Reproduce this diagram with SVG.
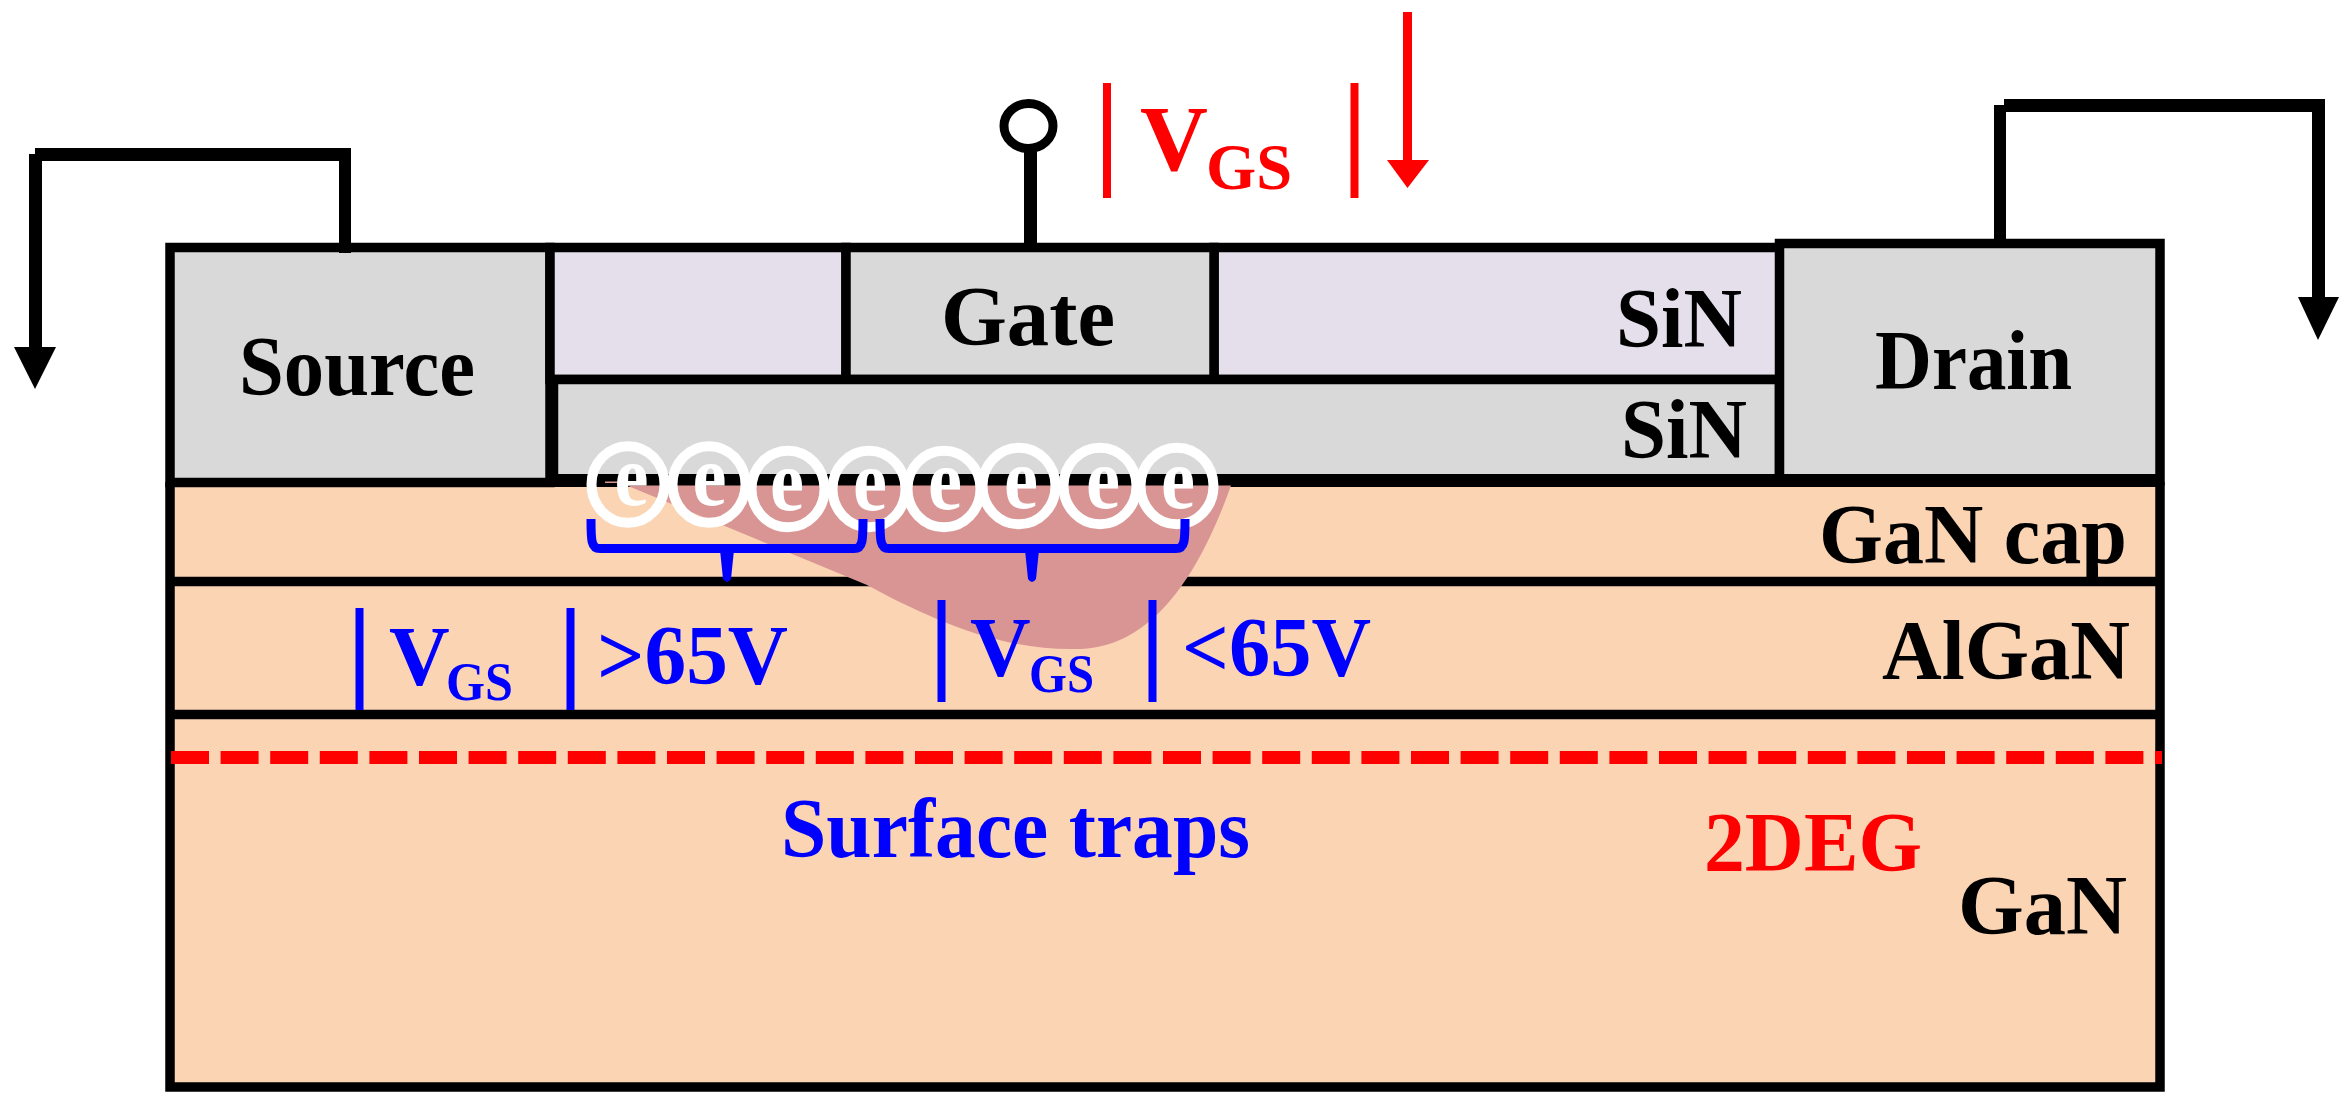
<svg xmlns="http://www.w3.org/2000/svg" width="2351" height="1104" viewBox="0 0 2351 1104">
<style>
text{font-family:"Liberation Serif","Times New Roman",serif;font-weight:bold}
.l{font-size:84px;fill:#000}
.b{fill:#00f}
.r{fill:#f00}
.e{font-size:86px;fill:#fff;text-anchor:middle}
.ln{stroke:#000;stroke-width:9.500;fill:none}
.bb{fill:none;stroke:#00f;stroke-width:8}
.rb{fill:none;stroke:#f00;stroke-width:8}
.br{fill:none;stroke:#00f;stroke-width:9}
</style>
<defs>
<ellipse id="ring" rx="36.500" ry="38.300" fill="none" stroke="#fff" stroke-width="10"/>
</defs>
<rect width="2351" height="1104" fill="#fff"/>
<g id="gan">
<rect x="170" y="482" width="1990" height="605" fill="#FBD4B4"/>
</g>
<g id="source"><rect x="170" y="247.500" width="380" height="235" class="ln" style="fill:#D9D9D9"/><text class="l" x="239" y="394.500" textLength="236" lengthAdjust="spacingAndGlyphs">Source</text></g>
<g id="sin-upper-left"><rect x="550" y="247.500" width="296" height="132" class="ln" style="fill:#E5DFEC"/></g>
<g id="sin-upper-right"><rect x="1214" y="247.500" width="566" height="132" class="ln" style="fill:#E5DFEC"/><text class="l" x="1616" y="347" textLength="126" lengthAdjust="spacingAndGlyphs">SiN</text></g>
<g id="gate"><rect x="846" y="247.500" width="368" height="132" class="ln" style="fill:#D9D9D9"/><text class="l" x="941" y="345" textLength="174" lengthAdjust="spacingAndGlyphs">Gate</text></g>
<g id="sin-lower"><rect x="553.500" y="379.500" width="1226" height="101" class="ln" style="fill:#D9D9D9"/><text class="l" x="1621" y="458" textLength="126" lengthAdjust="spacingAndGlyphs">SiN</text></g>
<g id="drain"><rect x="1779.500" y="243.500" width="380.500" height="237" class="ln" style="fill:#D9D9D9"/><text class="l" x="1875" y="389" textLength="197" lengthAdjust="spacingAndGlyphs">Drain</text></g>
<rect x="550" y="474" width="1614" height="13" fill="#000"/>
<rect x="166" y="478" width="390" height="9" fill="#000"/>
<g id="layer-lines">
<path class="ln" d="M170 581.500H2160M170 714.500H2160"/>
<path class="ln" d="M170 482V1087H2160V482"/>
</g>
<g id="depletion">
<path fill="#D99594" d="M605 481.500H627V485.500H1231C1192 595 1140 652 1071 649C1010 649 950 630 867 585L627 485.500V483H605Z"/>
</g>
<g id="electrons">
<use href="#ring" x="628" y="484.500"/><text class="e" x="631.500" y="505" textLength="34" lengthAdjust="spacingAndGlyphs">e</text>
<use href="#ring" x="709" y="484.500"/><text class="e" x="709.500" y="505" textLength="34" lengthAdjust="spacingAndGlyphs">e</text>
<use href="#ring" x="788" y="489"/><text class="e" x="787" y="510" textLength="34" lengthAdjust="spacingAndGlyphs">e</text>
<use href="#ring" x="869" y="489"/><text class="e" x="870" y="510" textLength="34" lengthAdjust="spacingAndGlyphs">e</text>
<use href="#ring" x="944" y="489"/><text class="e" x="945" y="509" textLength="34" lengthAdjust="spacingAndGlyphs">e</text>
<use href="#ring" x="1019" y="486"/><text class="e" x="1021" y="508" textLength="34" lengthAdjust="spacingAndGlyphs">e</text>
<use href="#ring" x="1100" y="486"/><text class="e" x="1103" y="508" textLength="34" lengthAdjust="spacingAndGlyphs">e</text>
<use href="#ring" x="1177" y="486"/><text class="e" x="1178" y="508" textLength="34" lengthAdjust="spacingAndGlyphs">e</text>
</g>
<g id="connectors">
<path class="br" d="M591 519C591 540 591 548.500 600 548.500H854C863 548.500 863 540 863 519M880 519C880 540 880 548.500 889 548.500H1176C1185 548.500 1185 540 1185 519"/>
<path fill="#00f" d="M720 550L723 579Q727 585 731 579L734 550L727 544ZM1025 550L1028 579Q1032 585 1036 579L1039 550L1032 544Z"/>
<path fill="#000" d="M339 148H351V253H339Z"/>
<path fill="#000" d="M35 148H348V161H42V347H29V154H35Z"/>
<path fill="#000" d="M14 347H56L35 389Z"/>
<path fill="none" stroke="#000" stroke-width="13" d="M1030.500 247V150"/>
<ellipse cx="1028.500" cy="126" rx="24.500" ry="22.500" fill="#fff" stroke="#000" stroke-width="9"/>
<path fill="#000" d="M2004 99H2325V297H2312V112H2006V240H1994V105H2004Z"/>
<path fill="#000" d="M2298 297H2339L2318 340Z"/>
<path fill="none" stroke="#f00" stroke-width="9" d="M1407.500 12V160"/>
<path fill="#f00" d="M1387 160H1429L1407.500 188Z"/>
<path class="rb" d="M1107 83V198M1354.500 83V198"/>
<path class="bb" d="M359.500 608V710M570.500 608V710M941.500 600V702M1152.500 600V702"/>
<path fill="none" stroke="#f00" stroke-width="13" stroke-dasharray="38 11.600" d="M171 757.500H2162"/>
</g>
<g id="labels">
<text class="r" font-size="94" x="1140" y="170">V</text><text class="r" font-size="66" x="1206" y="189" textLength="86" lengthAdjust="spacingAndGlyphs">GS</text>
<text class="b" font-size="84" x="389" y="685">V</text><text class="b" font-size="54" x="446" y="700" textLength="67" lengthAdjust="spacingAndGlyphs">GS</text>
<text class="b" font-size="84" x="970" y="676">V</text><text class="b" font-size="54" x="1029" y="692" textLength="65" lengthAdjust="spacingAndGlyphs">GS</text>
<text class="b" font-size="84" x="597" y="684" textLength="191" lengthAdjust="spacingAndGlyphs">&gt;65V</text>
<text class="b" font-size="84" x="1182" y="676" textLength="189" lengthAdjust="spacingAndGlyphs">&lt;65V</text>
<text class="b" font-size="84" x="781" y="857" textLength="469" lengthAdjust="spacingAndGlyphs">Surface traps</text>
<text class="r" font-size="84" x="1704" y="871" textLength="218" lengthAdjust="spacingAndGlyphs">2DEG</text>
<text class="l" x="1958" y="934" textLength="169" lengthAdjust="spacingAndGlyphs">GaN</text>
<text class="l" x="1882" y="679" textLength="248" lengthAdjust="spacingAndGlyphs">AlGaN</text>
<text class="l" x="1819" y="563" textLength="308" lengthAdjust="spacingAndGlyphs">GaN cap</text>
</g>
</svg>
